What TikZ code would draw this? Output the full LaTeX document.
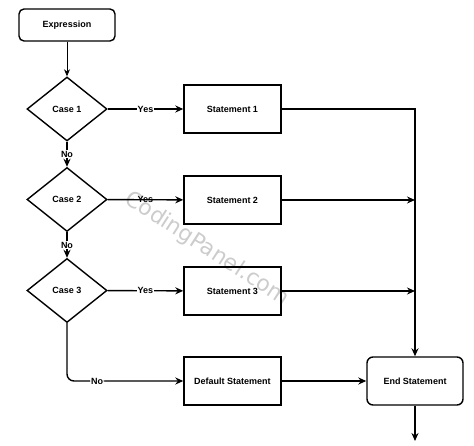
\documentclass[tikz,border=0pt]{standalone}
\usepackage{fontspec}
\setmainfont{Liberation Sans}
\newfontfamily\wmfont{DejaVu Sans}
\usetikzlibrary{shapes.geometric,arrows.meta}
\begin{document}
\begin{tikzpicture}[x=1pt,y=-1pt,
  font=\fontsize{9}{11}\selectfont\bfseries,
  every node/.append style={line width=1.4pt},
  rbox/.style={draw,rounded corners=5pt,minimum width=96pt,minimum height=32pt,inner sep=0pt},
  ebox/.style={draw,rounded corners=6pt,minimum width=96pt,minimum height=48pt,inner sep=0pt},
  sbox/.style={draw,minimum width=97pt,minimum height=48pt,inner sep=0pt},
  dbox/.style={draw,diamond,aspect=1.25,minimum width=80pt,minimum height=64pt,inner sep=0pt},
  conn/.style={line width=1.4pt,-{Stealth[length=8pt,width=7pt]}},
  lbl/.style={fill=white,inner sep=1pt}
]
\useasboundingbox (0,0) rectangle (474,446);
\node[font=\wmfont\fontsize{22}{26}\selectfont, text=black!20, rotate=-33] (wm) at (207,249) {CodingPanel.com};
\node[rbox] (expr) at (67,25) {Expression};
\node[dbox] (c1) at (67,109) {Case 1};
\node[dbox] (c2) at (67,199.5) {Case 2};
\node[dbox] (c3) at (67,290.5) {Case 3};
\node[sbox] (s1) at (232.5,109) {Statement 1};
\node[sbox] (s2) at (232.5,200) {Statement 2};
\node[sbox] (s3) at (232.5,291) {Statement 3};
\node[sbox] (def) at (232.5,381) {Default Statement};
\node[ebox] (end) at (415,381) {End Statement};
\coordinate (out) at (415,441);

\draw[line width=0.7pt,-{Stealth[length=7pt,width=6pt]}] (expr) -- (c1);
\draw[conn] (c1) -- node[lbl]{Yes} (s1);
\draw[conn] (c2) -- node[lbl,fill=none]{Yes} (s2);
\draw[conn] (c3) -- node[lbl]{Yes} (s3);
\draw[conn] (c1) -- node[lbl]{No} (c2);
\draw[conn] (c2) -- node[lbl]{No} (c3);
\draw[conn,rounded corners=7pt] (c3) |- node[lbl,pos=0.63]{No} (def);
\draw[conn] (s1) -| (end);
\draw[conn] (s2) -- (s2 -| end);
\draw[conn] (s3) -- (s3 -| end);
\draw[conn] (def) -- (end);
\draw[conn] (end) -- (out);
\end{tikzpicture}
\end{document}
